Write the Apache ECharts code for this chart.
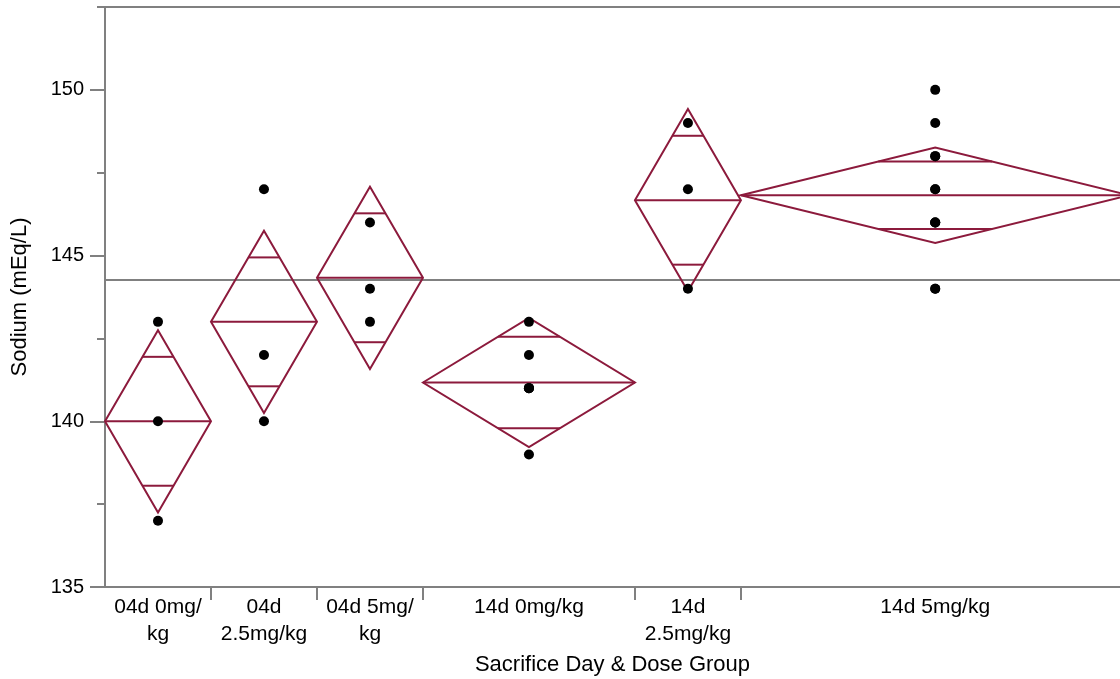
<!DOCTYPE html>
<html>
<head>
<meta charset="utf-8">
<style>html,body{margin:0;padding:0;background:#fff}#chart{width:1120px;height:679px}</style>
<script src="https://cdn.jsdelivr.net/npm/echarts@6/dist/echarts.min.js"></script>
</head>
<body>
<div id="chart"></div>
<script>
// ---- data ----
var groups = ['04d 0mg/\nkg', '04d\n2.5mg/kg', '04d 5mg/\nkg', '14d 0mg/kg', '14d\n2.5mg/kg', '14d 5mg/kg'];
var groupN = [3, 3, 3, 6, 3, 11];
var means = [140.0, 143.0, 144.33, 141.17, 146.67, 146.82];
var lowerCI = [137.25, 140.25, 141.58, 139.22, 143.92, 145.38];
var upperCI = [142.75, 145.75, 147.08, 143.12, 149.42, 148.26];
var grandMean = 144.28;
var observations = [
  [143, 140, 137],
  [147, 142, 140],
  [146, 144, 143],
  [143, 142, 141, 141, 141, 139],
  [149, 147, 144],
  [150, 149, 148, 148, 147, 147, 146, 146, 146, 144, 144]
];
var yMajorTicks = [135, 140, 145, 150];
var yMinorTicks = [137.5, 142.5, 147.5, 152.5];

// ---- derived positions on the x scale (widths proportional to n) ----
var edges = [0];
groupN.forEach(function (n, i) { edges.push(edges[i] + n); });
var centers = groupN.map(function (n, i) { return edges[i] + n / 2; });
var innerEdges = edges.slice(1, edges.length - 1);

var scatterData = [];
observations.forEach(function (vals, i) {
  vals.forEach(function (v) { scatterData.push([centers[i], v]); });
});
var diamondData = groups.map(function (g, i) { return [i]; });

var RED = '#8C1A3C';
var GRAY = '#808080';
var FONT = 'Liberation Sans, Arial, sans-serif';

var chart = echarts.init(document.getElementById('chart'), null, { renderer: 'canvas' });

var option = {
  animation: false,
  backgroundColor: '#fff',
  grid: { left: 105, right: 0, top: 7, bottom: 92, containLabel: false, outerBoundsMode: 'none' },
  xAxis: [{
    type: 'value',
    min: 0,
    max: 28.73,
    name: 'Sacrifice Day & Dose Group',
    nameLocation: 'middle',
    nameGap: 67,
    nameMoveOverlap: false,
    nameTextStyle: { fontFamily: FONT, fontSize: 22, color: '#000' },
    axisLine: { show: true, onZero: false, lineStyle: { color: GRAY, width: 2 } },
    axisTick: { show: true, customValues: innerEdges, length: 13, lineStyle: { color: GRAY, width: 2 } },
    axisLabel: {
      customValues: centers,
      margin: 7,
      fontFamily: FONT, fontSize: 21, color: '#000', lineHeight: 27,
      formatter: function (v) {
        for (var i = 0; i < centers.length; i++) { if (Math.abs(centers[i] - v) < 1e-6) return groups[i]; }
        return '';
      }
    },
    splitLine: { show: false }
  }, {
    type: 'value',
    position: 'top',
    min: 0, max: 28.73,
    axisLine: { show: true, lineStyle: { color: GRAY, width: 2 } },
    axisTick: { show: false },
    axisLabel: { show: false },
    splitLine: { show: false }
  }],
  yAxis: [{
    type: 'value',
    min: 135,
    max: 152.5,
    name: 'Sodium (mEq/L)',
    nameLocation: 'middle',
    nameGap: 74,
    nameMoveOverlap: false,
    nameTextStyle: { fontFamily: FONT, fontSize: 22, color: '#000' },
    axisLine: { show: true, lineStyle: { color: GRAY, width: 2 } },
    axisTick: { show: true, customValues: yMajorTicks, length: 15, lineStyle: { color: GRAY, width: 2 } },
    axisLabel: { customValues: yMajorTicks, margin: 21, fontFamily: FONT, fontSize: 20, color: '#000' },
    splitLine: { show: false }
  }, {
    type: 'value',
    min: 135,
    max: 152.5,
    position: 'left',
    offset: 0,
    axisLine: { show: false },
    axisTick: { show: true, customValues: yMinorTicks, length: 8, lineStyle: { color: GRAY, width: 2 } },
    axisLabel: { show: false },
    splitLine: { show: false }
  }],
  series: [{
    type: 'custom',
    xAxisIndex: 0,
    yAxisIndex: 0,
    z: 2,
    data: diamondData,
    renderItem: function (params, api) {
      var i = api.value(0);
      var x0 = edges[i], x1 = edges[i + 1], xc = centers[i];
      var m = means[i], lo = lowerCI[i], hi = upperCI[i];
      var L = api.coord([x0, m]), R = api.coord([x1, m]);
      var T = api.coord([xc, hi]), B = api.coord([xc, lo]);
      var halfU = (hi - m) / Math.SQRT2, halfL = (m - lo) / Math.SQRT2;
      var oU = m + halfU, oL = m - halfL;
      var fU = 1 - halfU / (hi - m), fL = 1 - halfL / (m - lo);
      var hw = (R[0] - L[0]) / 2;
      var cx = T[0];
      var yU = api.coord([xc, oU])[1], yL = api.coord([xc, oL])[1];
      var style = { stroke: RED, lineWidth: 2, fill: null };
      return {
        type: 'group',
        children: [
          { type: 'polygon', shape: { points: [L, T, R, B] }, style: style },
          { type: 'line', shape: { x1: L[0], y1: L[1], x2: R[0], y2: R[1] }, style: style },
          { type: 'line', shape: { x1: cx - hw * fU, y1: yU, x2: cx + hw * fU, y2: yU }, style: style },
          { type: 'line', shape: { x1: cx - hw * fL, y1: yL, x2: cx + hw * fL, y2: yL }, style: style }
        ]
      };
    }
  }, {
    type: 'scatter',
    xAxisIndex: 0,
    yAxisIndex: 0,
    z: 3,
    symbol: 'circle',
    symbolSize: 10,
    itemStyle: { color: '#000', opacity: 1 },
    data: scatterData,
    markLine: {
      silent: true,
      symbol: ['none', 'none'],
      label: { show: false },
      lineStyle: { color: GRAY, width: 2, type: 'solid' },
      data: [{ yAxis: grandMean }],
      z: 1
    }
  }]
};
chart.setOption(option);
</script>
</body>
</html>
